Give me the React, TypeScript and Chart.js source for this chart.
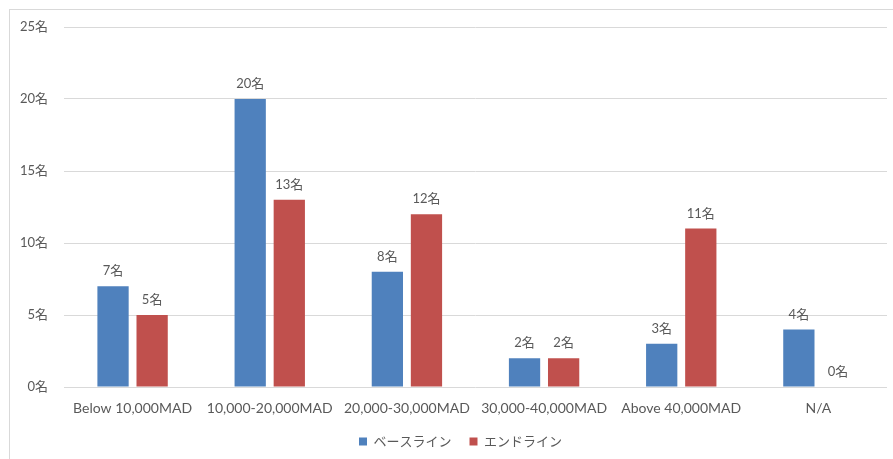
import React, { useEffect, useRef } from "react";
import { Chart, registerables } from "chart.js";

Chart.register(...registerables);

const categories = [
  "Below 10,000MAD",
  "10,000-20,000MAD",
  "20,000-30,000MAD",
  "30,000-40,000MAD",
  "Above 40,000MAD",
  "N/A",
];
const baseline = [7, 20, 8, 2, 3, 4];
const endline = [5, 13, 12, 2, 11, 0];
const seriesNames = ["ベースライン", "エンドライン"];
const unit = "名";

const TEXT = "#595959";
const GRID = "#d9d9d9";
const FONT = "Lato, 'Noto Sans CJK JP', sans-serif";

// value captions above each bar
const valueLabels = {
  id: "valueLabels",
  afterDatasetsDraw(chart: any) {
    const { ctx } = chart;
    ctx.save();
    ctx.fillStyle = TEXT;
    ctx.font = `13px ${FONT}`;
    ctx.textAlign = "center";
    ctx.textBaseline = "middle";
    chart.data.datasets.forEach((ds: any, di: number) => {
      const meta = chart.getDatasetMeta(di);
      meta.data.forEach((el: any, i: number) => {
        ctx.fillText(`${ds.data[i]}${unit}`, el.x, el.y - 15);
      });
    });
    ctx.restore();
  },
};

// nudge the legend so it sits under the middle of the frame
const legendShift = {
  id: "legendShift",
  afterLayout(chart: any) {
    const lg = chart.legend;
    if (!lg) return;
    lg.left += 12;
    lg.right += 12;
  },
};

export default function App() {
  const ref = useRef<HTMLCanvasElement>(null);

  useEffect(() => {
    if (!ref.current) return;
    const chart = new Chart(ref.current, {
      type: "bar",
      data: {
        labels: categories,
        datasets: [
          {
            label: seriesNames[0],
            data: baseline,
            backgroundColor: "#4f81bd",
            categoryPercentage: 0.57,
            barPercentage: 0.8,
          },
          {
            label: seriesNames[1],
            data: endline,
            backgroundColor: "#c0504d",
            categoryPercentage: 0.57,
            barPercentage: 0.8,
          },
        ],
      },
      options: {
        animation: false,
        responsive: false,
        maintainAspectRatio: false,
        layout: { padding: { left: 0, right: 6, top: 17, bottom: 1 } },
        scales: {
          x: {
            grid: { display: false, drawTicks: false },
            border: { display: false },
            ticks: {
              color: TEXT,
              font: { family: FONT, size: 14 },
              padding: 13,
              maxRotation: 0,
              autoSkip: false,
            },
            afterFit(scale: any) {
              scale.height = 30;
              scale.paddingLeft = 0;
              scale.paddingRight = 0;
            },
          },
          y: {
            min: 0,
            max: 25,
            grid: { color: GRID, drawTicks: false },
            border: { display: false },
            ticks: {
              stepSize: 5,
              color: TEXT,
              font: { family: FONT, size: 13 },
              padding: 16,
              callback: (v: any) => `${v}${unit}`,
            },
            afterFit(scale: any) {
              scale.width = 54;
              scale.paddingTop = 0;
              scale.paddingBottom = 0;
            },
          },
        },
        plugins: {
          legend: {
            position: "bottom",
            maxHeight: 41,
            labels: {
              color: TEXT,
              font: { family: FONT, size: 13 },
              boxWidth: 8,
              boxHeight: 8,
              padding: 18,
            },
          },
          tooltip: { enabled: false },
        },
      },
      plugins: [valueLabels, legendShift],
    });
    return () => chart.destroy();
  }, []);

  return (
    <div
      style={{
        position: "absolute",
        left: 9,
        top: 9,
        width: 883,
        height: 449,
        borderLeft: `1px solid ${GRID}`,
        borderTop: `1px solid ${GRID}`,
        background: "#fff",
      }}
    >
      <canvas ref={ref} width={883} height={449} style={{ display: "block" }} />
    </div>
  );
}
